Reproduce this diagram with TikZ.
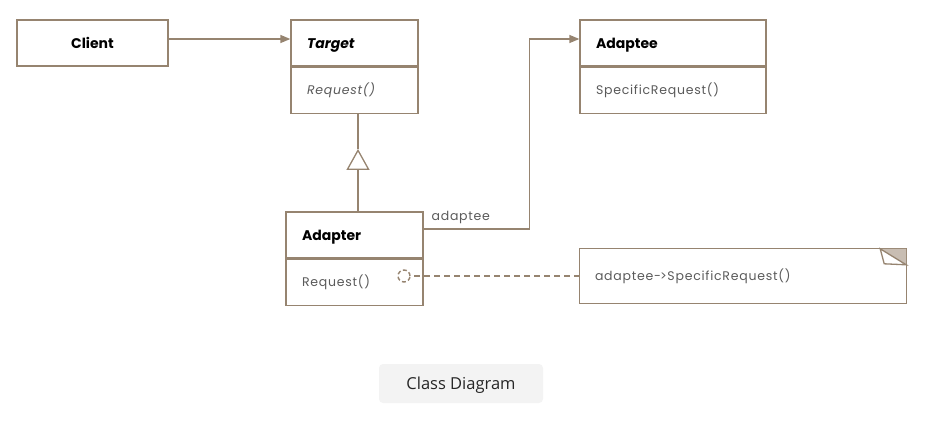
\documentclass[tikz,border=0pt]{standalone}
\usepackage{fontspec}
\setmainfont{Poppins}
\newfontfamily\opfont{Poppins}[LetterSpace=6]
\newfontfamily\capfont{Open Sans}
\usetikzlibrary{positioning,arrows.meta}
\definecolor{umlline}{RGB}{150, 132, 112}
\definecolor{umlfold}{RGB}{200, 189, 178}
\definecolor{opgray}{RGB}{90, 90, 90}
\definecolor{capbg}{RGB}{243, 243, 243}

\begin{document}
\begin{tikzpicture}[x=1pt, y=-1pt,
		classhead/.style={draw=umlline, line width=1.3pt, fill=white, minimum height=46pt, inner xsep=16pt, inner ysep=0pt, text width=#1, text height=10pt, text depth=0pt, align=left, font=\bfseries\fontsize{14}{16}\selectfont},
		classops/.style={draw=umlline, line width=1.3pt, fill=white, minimum height=46pt, inner xsep=16pt, inner ysep=0pt, text width=#1, align=left, text=opgray, font=\opfont\fontsize{12.5}{15}\selectfont},
		assoc/.style={draw=umlline, line width=1.3pt, -{Triangle[length=10pt, width=8pt]}},
		notelink/.style={draw=umlline, line width=1.2pt, dash pattern=on 6pt off 4pt}
	]
	\useasboundingbox (0,0) rectangle (925,442);
	% classes
	\node[classhead=119pt, align=center] (client) at (92.5,43) {Client};
	\node[classhead=95pt] (target) at (354.5,43) {\itshape Target};
	\node[classops=95pt, below=0pt of target] (targetops) {\itshape Request()};
	\node[classhead=154pt] (adaptee) at (673,43) {Adaptee};
	\node[classops=154pt, below=0pt of adaptee] (adapteeops) {SpecificRequest()};
	\node[classhead=105pt] (adapter) at (354.5,235) {Adapter};
	\node[classops=105pt, below=0pt of adapter] (adapterops) {Request()};
	% note
	\node[minimum width=326pt, minimum height=54pt, inner xsep=15pt, text width=296pt, align=left, text=opgray, font=\opfont\fontsize{12.5}{15}\selectfont] (note) at (743,276) {adaptee-\kern-1pt>SpecificRequest()};
	\draw[umlline, line width=1.3pt] (note.north west) rectangle (note.south east);
	\fill[umlfold] ([xshift=-26pt]note.north east) -- (note.north east) -- ([yshift=-16pt]note.north east) -- cycle;
	\draw[umlline, line width=1.3pt, fill=white] ([xshift=-26pt]note.north east) -- ([xshift=-22pt, yshift=-15pt]note.north east) -- ([yshift=-16pt]note.north east) -- cycle;
	% connectors
	\draw[assoc] ([yshift=4pt]client.east) -- ([yshift=4pt]target.west);
	\draw[assoc] ([yshift=6pt]adapter.east) -- ++(106,0) node[pos=0, above right=1pt and 4pt, text=opgray, font=\opfont\fontsize{12.5}{15}\selectfont] (rolename) {adaptee} |- ([yshift=4pt]adaptee.west);
	\coordinate (gen) at ([xshift=3.5pt, yshift=-35pt]targetops.south);
	\draw[umlline, line width=1.3pt] ([xshift=3.5pt]targetops.south) -- (gen);
	\draw[umlline, line width=1.3pt, -{Triangle[open, length=21pt, width=23pt, fill=white]}] ([xshift=3.5pt]adapter.north) -- (gen);
	\node[circle, draw=umlline, line width=1.4pt, dash pattern=on 4pt off 2.5pt, minimum size=12pt, inner sep=0pt] (ptr) at (404,276) {};
	\draw[notelink] (note.west) -- (ptr.east);
	% caption
	\node[fill=capbg, rounded corners=4pt, minimum width=164pt, minimum height=39pt, text height=12pt, text depth=0pt, text=black!85, font=\capfont\fontsize{16.5}{19}\selectfont] (caption) at (461,383.5) {Class Diagram};
\end{tikzpicture}
\end{document}
